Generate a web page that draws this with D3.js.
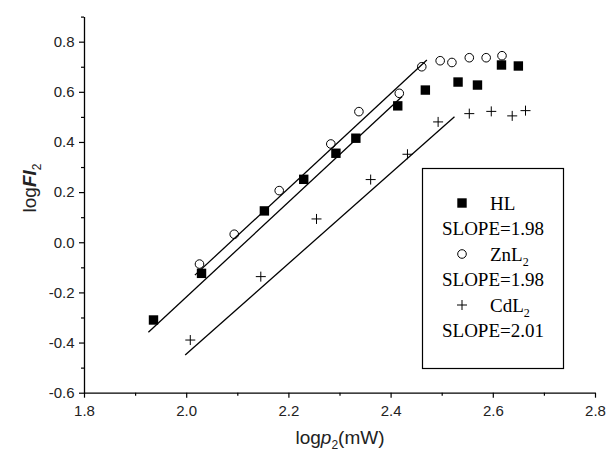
<!DOCTYPE html>
<html>
<head>
<meta charset="utf-8">
<script src="https://cdn.jsdelivr.net/npm/d3@7"></script>
<style>
  body { margin: 0; background: #fff; }
  svg { display: block; }
</style>
</head>
<body>
<svg id="chart"></svg>
<script>
// data
const hlX = [1.936, 2.030, 2.153, 2.230, 2.293, 2.332, 2.414, 2.468, 2.532, 2.570, 2.617, 2.650];
const hlY = [-0.310, -0.124, 0.125, 0.251, 0.355, 0.415, 0.544, 0.607, 0.639, 0.627, 0.707, 0.703];
const znX = [2.026, 2.094, 2.182, 2.283, 2.338, 2.417, 2.461, 2.497, 2.520, 2.554, 2.587, 2.618];
const znY = [-0.087, 0.032, 0.206, 0.392, 0.521, 0.594, 0.700, 0.724, 0.717, 0.736, 0.736, 0.744];
const cdX = [2.008, 2.146, 2.255, 2.361, 2.433, 2.493, 2.554, 2.597, 2.638, 2.664];
const cdY = [-0.390, -0.137, 0.093, 0.250, 0.351, 0.480, 0.513, 0.522, 0.504, 0.525];

// fitted lines, two end points each
const hlFitX = [1.926, 2.4225];
const hlFitY = [-0.359, 0.581];
const znFitX = [2.017, 2.471];
const znFitY = [-0.131, 0.727];
const cdFitX = [1.998, 2.525];
const cdFitY = [-0.450, 0.501];

const xMajor = [1.8, 2.0, 2.2, 2.4, 2.6, 2.8];
const xMinor = [1.9, 2.1, 2.3, 2.5, 2.7];
const yMajor = [-0.6, -0.4, -0.2, 0.0, 0.2, 0.4, 0.6, 0.8];
const yMinor = [-0.5, -0.3, -0.1, 0.1, 0.3, 0.5, 0.7, 0.9];

const legendNames = ["HL", "ZnL", "CdL"];
const legendSubs = ["", "2", "2"];
const legendSlopes = ["SLOPE=1.98", "SLOPE=1.98", "SLOPE=2.01"];

const W = 608, H = 455;
const svg = d3.select("#chart").attr("width", W).attr("height", H);
svg.append("rect").attr("width", W).attr("height", H).attr("fill", "#fff");

const x = d3.scaleLinear().domain([1.8, 2.8]).range([84, 595]);
const y = d3.scaleLinear().domain([-0.6, 0.9]).range([392.7, 16.6]);

const fmt = d => d.toFixed(1);
const tickFont = "Liberation Sans, Arial, sans-serif";

// axes
const gx = svg.append("g").attr("transform", `translate(0,${y(-0.6)})`);
gx.call(d3.axisBottom(x).tickValues(xMajor).tickFormat(fmt).tickSize(5).tickSizeOuter(0));
gx.append("g").call(d3.axisBottom(x).tickValues(xMinor).tickFormat("").tickSize(3).tickSizeOuter(0))
  .select(".domain").remove();

const gy = svg.append("g").attr("transform", `translate(${x(1.8)},0)`);
gy.call(d3.axisLeft(y).tickValues(yMajor).tickFormat(fmt).tickSize(5).tickSizeOuter(0));
gy.append("g").call(d3.axisLeft(y).tickValues(yMinor).tickFormat("").tickSize(3).tickSizeOuter(0))
  .select(".domain").remove();

svg.selectAll(".domain").attr("stroke", "#000").attr("stroke-width", 1.3);
svg.selectAll(".tick line").attr("stroke", "#000").attr("stroke-width", 1.2);
svg.selectAll(".tick text")
  .attr("font-family", tickFont).attr("font-size", 15).attr("fill", "#222");
gx.selectAll(".tick text").attr("dy", "1.05em");
gy.selectAll(".tick text").attr("dx", "-0.1em");

// axis titles
const xt = svg.append("text")
  .attr("x", 340).attr("y", 444)
  .attr("text-anchor", "middle")
  .attr("font-family", tickFont).attr("font-size", 19).attr("fill", "#222");
xt.append("tspan").text("log");
xt.append("tspan").attr("font-style", "italic").text("p");
xt.append("tspan").attr("font-size", 12).attr("dy", 5).text("2");
xt.append("tspan").attr("dy", -5).text("(mW)");

const yt = svg.append("text")
  .attr("transform", "translate(36,188) rotate(-90)")
  .attr("text-anchor", "middle")
  .attr("font-family", tickFont).attr("font-size", 19).attr("fill", "#222");
yt.append("tspan").text("log");
yt.append("tspan").attr("font-style", "italic").attr("font-weight", "bold").text("FI");
yt.append("tspan").attr("font-size", 12).attr("dy", 5).text("2");

// fit lines
const line = d3.line().x(d => x(d[0])).y(d => y(d[1]));
[[hlFitX, hlFitY], [znFitX, znFitY], [cdFitX, cdFitY]].forEach(([fx, fy]) => {
  svg.append("path")
    .attr("d", line(d3.zip(fx, fy)))
    .attr("fill", "none").attr("stroke", "#000").attr("stroke-width", 1.3);
});

// markers
function square(g, cx, cy) {
  g.append("rect").attr("x", cx - 4.7).attr("y", cy - 4.7)
    .attr("width", 9.4).attr("height", 9.4).attr("fill", "#000");
}
function circle(g, cx, cy) {
  g.append("circle").attr("cx", cx).attr("cy", cy).attr("r", 4.3)
    .attr("fill", "none").attr("stroke", "#000").attr("stroke-width", 1);
}
function plus(g, cx, cy) {
  g.append("path").attr("d", `M${cx - 5},${cy}H${cx + 5}M${cx},${cy - 5}V${cy + 5}`)
    .attr("stroke", "#000").attr("stroke-width", 1);
}

const pts = svg.append("g");
hlX.forEach((v, i) => square(pts, x(v), y(hlY[i])));
znX.forEach((v, i) => circle(pts, x(v), y(znY[i])));
cdX.forEach((v, i) => plus(pts, x(v), y(cdY[i])));

// legend
const lg = svg.append("g");
lg.append("rect").attr("x", 422.5).attr("y", 168.5).attr("width", 141).attr("height", 200)
  .attr("fill", "#fff").attr("stroke", "#000").attr("stroke-width", 1.2);
const serif = "Liberation Serif, Times New Roman, serif";
const markers = [square, circle, plus];
legendNames.forEach((name, i) => {
  const rowY = 203 + i * 51;
  markers[i](lg, 462, rowY);
  const t = lg.append("text").attr("x", 490).attr("y", rowY + 6.5)
    .attr("font-family", serif).attr("font-size", 19).attr("fill", "#000");
  t.append("tspan").text(name);
  if (legendSubs[i]) t.append("tspan").attr("font-size", 12).attr("dy", 5).text(legendSubs[i]);
  lg.append("text").attr("x", 493).attr("y", rowY + 32)
    .attr("text-anchor", "middle")
    .attr("font-family", serif).attr("font-size", 19).attr("fill", "#000")
    .text(legendSlopes[i]);
});
</script>
</body>
</html>
